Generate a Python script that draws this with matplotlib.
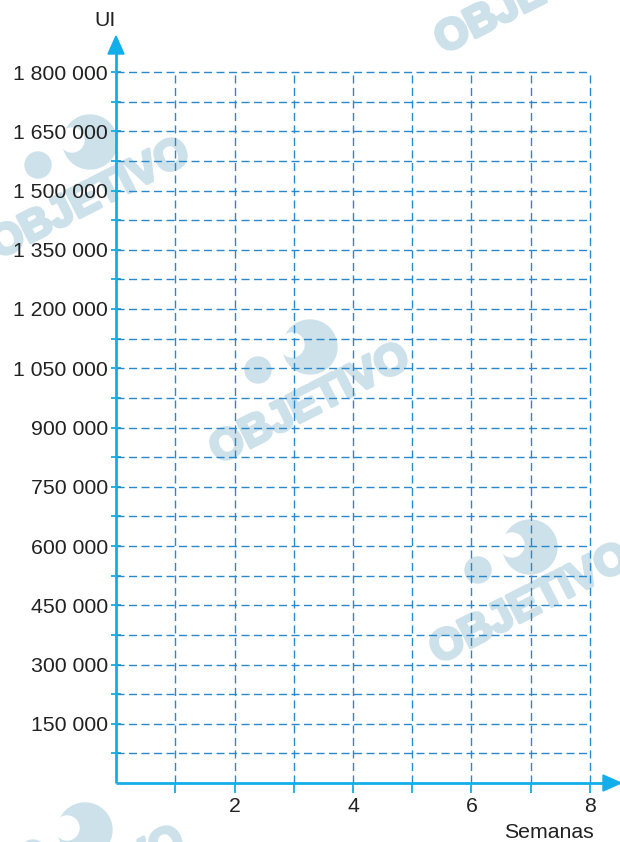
import matplotlib
matplotlib.use("Agg")
import matplotlib.pyplot as plt
import matplotlib.patheffects as pe
from matplotlib.patches import Circle, Polygon
from matplotlib.transforms import Affine2D

plt.rcParams['font.family'] = ['Liberation Sans', 'DejaVu Sans']

# data
y_values = [75000 * i for i in range(1, 25)]
y_labels = ['' if i % 2 else f"{v:,}".replace(',', ' ') for i, v in zip(range(1, 25), y_values)]
x_values = [1, 2, 3, 4, 5, 6, 7, 8]
x_labels = ['', '2', '', '4', '', '6', '', '8']

axis_col = '#12aeea'
grid_col = '#2a88cc'
wm_col = '#cde1eb'
txt_col = '#222222'

W, H = 620, 842
fig = plt.figure(figsize=(W / 100, H / 100), dpi=100)
px = Affine2D().scale(0.01, -0.01).translate(0, H / 100) + fig.dpi_scale_trans

# axes: origin at (116, 783), x=8 at 590, y=1 800 000 at 72
x0, y0 = 116, 783
xs = (590 - 116) / 8
ys = (783 - 72) / 1800000
right, top = 612, 40
ax = fig.add_axes([x0 / W, (H - y0) / H, (right - x0) / W, (y0 - top) / H])
ax.set_xlim(0, (right - x0) / xs)
ax.set_ylim(0, (y0 - top) / ys)
ax.patch.set_facecolor('none')
for s in ax.spines.values():
    s.set_visible(False)

# grid
for v in y_values:
    ax.plot([0, 8], [v, v], color=grid_col, lw=1.0, ls=(0, (5.8, 3.2)), zorder=2)
for v in x_values:
    ax.plot([v, v], [0, 1800000], color=grid_col, lw=1.0, ls=(0, (5.8, 3.2)), zorder=2)

# axes lines
ax.plot([0, ax.get_xlim()[1]], [0, 0], color=axis_col, lw=2.0, clip_on=False, zorder=4, solid_capstyle='butt')
ax.plot([0, 0], [0, ax.get_ylim()[1]], color=axis_col, lw=2.0, clip_on=False, zorder=4, solid_capstyle='butt')
fig.add_artist(Polygon([[116, 36], [108, 54], [124, 54]], closed=True, transform=px, color=axis_col, zorder=5))
fig.add_artist(Polygon([[621, 783], [603, 775], [603, 791]], closed=True, transform=px, color=axis_col, zorder=5))

ax.set_yticks(y_values)
ax.set_yticklabels(y_labels)
ax.set_xticks(x_values)
ax.set_xticklabels(x_labels)
ax.tick_params(axis='y', direction='inout', length=7.5, width=1.3, color=axis_col, pad=2,
               labelsize=15.3, labelcolor=txt_col)
ax.tick_params(axis='x', direction='out', length=7, width=1.3, color=axis_col, pad=3,
               labelsize=15.3, labelcolor=txt_col)

fig.text(105, 21, 'UI', transform=px, fontsize=15.3, ha='center', va='center', color=txt_col)
fig.text(549, 833, 'Semanas', transform=px, fontsize=15.3, ha='center', va='center', color=txt_col)


# watermarks
def watermark(cx, cy):
    fig.text(cx, cy, 'OBJETIVO', transform=px, fontsize=31, fontweight='bold', color=wm_col,
             rotation=27, ha='center', va='center', zorder=-2,
             path_effects=[pe.withStroke(linewidth=2.5, foreground=wm_col)])
    fig.add_artist(Circle((cx, cy - 58), 27, transform=px, color=wm_col, zorder=-2))
    fig.add_artist(Circle((cx - 18, cy - 60), 12, transform=px, color='white', zorder=-2))
    fig.add_artist(Circle((cx - 52, cy - 35), 13, transform=px, color=wm_col, zorder=-2))


for c in [(535, -5), (90, 200), (310, 405), (530, 605), (85, 888)]:
    watermark(*c)

fig.savefig('out.png', dpi=100)
